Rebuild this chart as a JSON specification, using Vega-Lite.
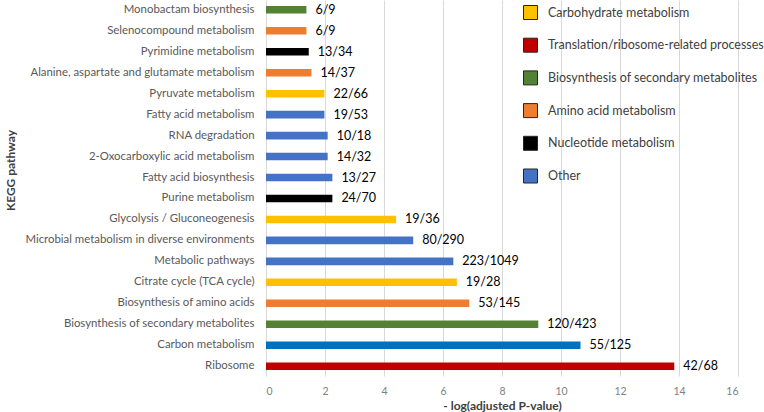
{
  "$schema": "https://vega.github.io/schema/vega-lite/v6.json",
  "autosize": {"type": "none"},
  "width": 472,
  "height": 376,
  "padding": {"left": 266, "top": 0, "right": 26, "bottom": 36},
  "background": "white",
  "config": {
    "view": {"stroke": null},
    "font": "Lato"
  },
  "data": {
    "values": [
      {"pathway": "Monobactam biosynthesis", "value": 1.37, "category": "Biosynthesis of secondary metabolites", "label": "6/9"},
      {"pathway": "Selenocompound metabolism", "value": 1.37, "category": "Amino acid metabolism", "label": "6/9"},
      {"pathway": "Pyrimidine metabolism", "value": 1.45, "category": "Nucleotide metabolism", "label": "13/34"},
      {"pathway": "Alanine, aspartate and glutamate metabolism", "value": 1.54, "category": "Amino acid metabolism", "label": "14/37"},
      {"pathway": "Pyruvate metabolism", "value": 1.98, "category": "Carbohydrate metabolism", "label": "22/66"},
      {"pathway": "Fatty acid metabolism", "value": 1.98, "category": "Other", "label": "19/53"},
      {"pathway": "RNA degradation", "value": 2.09, "category": "Other", "label": "10/18"},
      {"pathway": "2-Oxocarboxylic acid metabolism", "value": 2.09, "category": "Other", "label": "14/32"},
      {"pathway": "Fatty acid biosynthesis", "value": 2.25, "category": "Other", "label": "13/27"},
      {"pathway": "Purine metabolism", "value": 2.25, "category": "Nucleotide metabolism", "label": "24/70"},
      {"pathway": "Glycolysis / Gluconeogenesis", "value": 4.41, "category": "Carbohydrate metabolism", "label": "19/36"},
      {"pathway": "Microbial metabolism in diverse environments", "value": 4.99, "category": "Other", "label": "80/290"},
      {"pathway": "Metabolic pathways", "value": 6.35, "category": "Other", "label": "223/1049"},
      {"pathway": "Citrate cycle (TCA cycle)", "value": 6.47, "category": "Carbohydrate metabolism", "label": "19/28"},
      {"pathway": "Biosynthesis of amino acids", "value": 6.89, "category": "Amino acid metabolism", "label": "53/145"},
      {"pathway": "Biosynthesis of secondary metabolites", "value": 9.23, "category": "Biosynthesis of secondary metabolites", "label": "120/423"},
      {"pathway": "Carbon metabolism", "value": 10.66, "category": "Carbon", "label": "55/125"},
      {"pathway": "Ribosome", "value": 13.84, "category": "Translation/ribosome-related processes", "label": "42/68"}
    ]
  },
  "encoding": {
    "y": {
      "field": "pathway",
      "type": "nominal",
      "sort": null,
      "scale": {"paddingInner": 0.64, "paddingOuter": 0.29},
      "axis": {
        "title": "KEGG pathway",
        "titleFont": "Lato",
        "titleFontSize": 12,
        "titleFontWeight": "bold",
        "titleColor": "#404040",
        "titleX": -256,
        "titleY": 170,
        "titleAngle": -90,
        "titleBaseline": "middle",
        "titleAlign": "center",
        "labelFont": "Lato",
        "labelFontSize": 11.4,
        "labelColor": "#595959",
        "labelPadding": 12,
        "labelLimit": 400,
        "ticks": false,
        "domain": false,
        "grid": false
      }
    },
    "x": {
      "field": "value",
      "type": "quantitative",
      "scale": {"domain": [0, 16], "nice": false},
      "axis": {
        "title": "- log(adjusted P-value)",
        "titleFont": "Lato",
        "titleFontSize": 12,
        "titleFontWeight": "bold",
        "titleColor": "#404040",
        "titlePadding": 4,
        "values": [0, 2, 4, 6, 8, 10, 12, 14, 16],
        "labelFont": "Lato",
        "labelFontSize": 10.5,
        "labelColor": "#7f7f7f",
        "labelPadding": 10,
        "ticks": false,
        "domain": false,
        "grid": true,
        "gridColor": "#d9d9d9",
        "gridWidth": 1
      }
    }
  },
  "layer": [
    {
      "mark": {"type": "bar"},
      "encoding": {
        "color": {
          "field": "category",
          "type": "nominal",
          "scale": {
            "domain": ["Carbohydrate metabolism", "Translation/ribosome-related processes", "Biosynthesis of secondary metabolites", "Amino acid metabolism", "Nucleotide metabolism", "Other", "Carbon"],
            "range": ["#FFC000", "#C00000", "#548235", "#ED7D31", "#000000", "#4472C4", "#0070C0"]
          },
          "legend": {
            "title": null,
            "orient": "none",
            "legendX": 257,
            "legendY": 5,
            "values": ["Carbohydrate metabolism", "Translation/ribosome-related processes", "Biosynthesis of secondary metabolites", "Amino acid metabolism", "Nucleotide metabolism", "Other"],
            "symbolType": "square",
            "symbolSize": 196,
            "symbolStrokeColor": "#262626",
            "symbolStrokeWidth": 1,
            "symbolOpacity": 1,
            "labelFont": "Lato",
            "labelFontSize": 12.5,
            "labelColor": "#404040",
            "labelOffset": 10,
            "labelLimit": 300,
            "rowPadding": 13.7,
            "padding": 0
          }
        }
      }
    },
    {
      "mark": {"type": "text", "align": "left", "baseline": "middle", "dx": 9, "font": "Lato", "fontSize": 12.5, "color": "#000000"},
      "encoding": {
        "text": {"field": "label"}
      }
    }
  ]
}
